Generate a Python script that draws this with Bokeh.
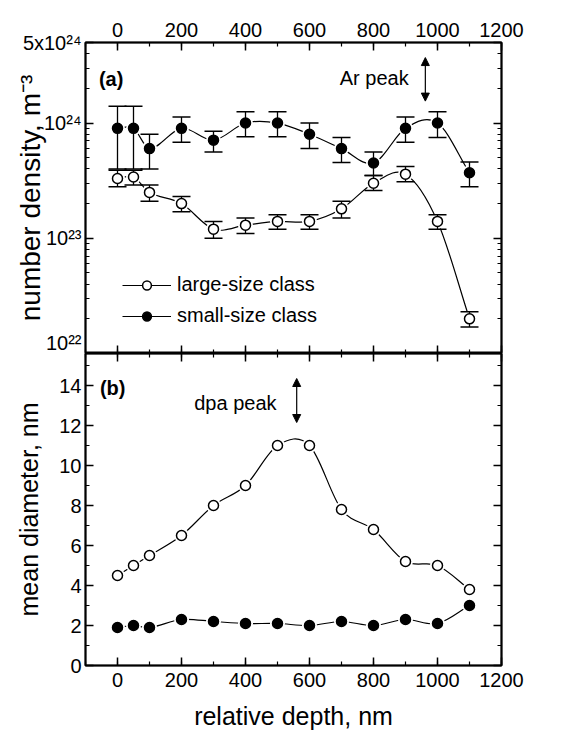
import numpy as np
from bokeh.plotting import figure
from bokeh.models import (Range1d, FixedTicker, SingleIntervalTicker, LogAxis, LinearAxis,
                          CustomJSTickFormatter, Legend, LegendItem, Arrow, NormalHead)
from bokeh.layouts import column
from bokeh.embed import file_html
from bokeh.resources import INLINE
from bokeh.core.properties import value

# ---------------- data ----------------
depth = [0, 50, 100, 200, 300, 400, 500, 600, 700, 800, 900, 1000, 1100]

large_density = [3.3e23, 3.4e23, 2.5e23, 2.0e23, 1.2e23, 1.3e23, 1.4e23, 1.4e23, 1.8e23, 3.0e23, 3.6e23, 1.4e23, 2.0e22]
large_density_low = [2.8e23, 2.9e23, 2.1e23, 1.7e23, 1.0e23, 1.1e23, 1.2e23, 1.2e23, 1.5e23, 2.6e23, 3.1e23, 1.2e23, 1.7e22]
large_density_high = [3.9e23, 3.9e23, 2.9e23, 2.3e23, 1.4e23, 1.5e23, 1.6e23, 1.6e23, 2.1e23, 3.5e23, 4.2e23, 1.6e23, 2.3e22]

small_density = [9.0e23, 9.0e23, 6.0e23, 9.0e23, 7.1e23, 1.0e24, 1.0e24, 8.0e23, 6.0e23, 4.5e23, 9.0e23, 1.0e24, 3.7e23]
small_density_low = [4.0e23, 4.0e23, 4.0e23, 6.8e23, 5.6e23, 7.6e23, 7.6e23, 6.0e23, 4.55e23, 3.5e23, 6.8e23, 7.5e23, 2.8e23]
small_density_high = [1.4e24, 1.4e24, 8.0e23, 1.13e24, 8.5e23, 1.25e24, 1.25e24, 1.0e24, 7.5e23, 5.6e23, 1.13e24, 1.25e24, 4.6e23]

large_diameter = [4.5, 5.0, 5.5, 6.5, 8.0, 9.0, 11.0, 11.0, 7.8, 6.8, 5.2, 5.0, 3.8]
small_diameter = [1.9, 2.0, 1.9, 2.3, 2.2, 2.1, 2.1, 2.0, 2.2, 2.0, 2.3, 2.1, 3.0]

series_labels = ["large-size class", "small-size class"]
density_ticks = [1e22, 1e23, 1e24, 5e24]
density_minor = [k * 10.0 ** e for e in (22, 23) for k in range(2, 10)] + [2e24, 3e24, 4e24]

FONT = "Liberation Sans"


def spline(xs, ys, log=False):
    """Smooth cubic (Hermite) segments through the points, as Bezier control points."""
    x = np.asarray(xs, float)
    y = np.log10(ys) if log else np.asarray(ys, float)
    s = np.empty(len(x))
    s[0] = (y[1] - y[0]) / (x[1] - x[0])
    s[-1] = (y[-1] - y[-2]) / (x[-1] - x[-2])
    s[1:-1] = (y[2:] - y[:-2]) / (x[2:] - x[:-2])
    h = np.diff(x)
    cx0 = x[:-1] + h / 3
    cy0 = y[:-1] + s[:-1] * h / 3
    cx1 = x[1:] - h / 3
    cy1 = y[1:] - s[1:] * h / 3
    y0, y1 = y[:-1], y[1:]
    if log:
        y0, y1, cy0, cy1 = 10 ** y0, 10 ** y1, 10 ** cy0, 10 ** cy1
    return dict(x0=x[:-1], y0=y0, x1=x[1:], y1=y1, cx0=cx0, cy0=cy0, cx1=cx1, cy1=cy1)


def style_axis(ax, labels=True, size="20px", standoff=5):
    ax.axis_line_color = "black"
    ax.axis_line_width = 1.5
    ax.major_tick_in = 8
    ax.major_tick_out = 0
    ax.minor_tick_in = 4
    ax.minor_tick_out = 0
    ax.major_tick_line_color = "black"
    ax.major_tick_line_width = 1.5
    ax.minor_tick_line_color = "black"
    ax.minor_tick_line_width = 1.2
    ax.major_label_text_font = FONT
    ax.major_label_text_color = "black"
    if labels:
        ax.major_label_text_font_size = size
        ax.major_label_standoff = standoff
    else:
        ax.major_label_text_font_size = "0px"
        ax.major_label_standoff = 0
        ax.formatter = CustomJSTickFormatter(code="return ''")


log_fmt = CustomJSTickFormatter(code="""
const e = Math.floor(Math.log10(tick) + 1e-9);
const m = Math.round(tick / Math.pow(10, e));
const sup = {'0':'\u2070','1':'\u00b9','2':'\u00b2','3':'\u00b3','4':'\u2074','5':'\u2075','6':'\u2076','7':'\u2077','8':'\u2078','9':'\u2079','-':'\u207b'};
const s = String(e).split('').map(c => sup[c]).join('');
return (m == 1 ? '' : m + 'x') + '10' + s;
""")

xr = Range1d(-100, 1200)

# ---------------- panel (a) ----------------
pa = figure(frame_width=416, frame_height=311, x_range=xr, y_range=Range1d(1e22, 5e24),
            y_axis_type="log", x_axis_location="above", output_backend="svg",
            toolbar_location=None, min_border_left=85, min_border_right=30,
            min_border_top=42, min_border_bottom=0)
pa.xgrid.visible = False
pa.ygrid.visible = False
pa.outline_line_color = "black"
pa.outline_line_width = 2

xa_top = pa.xaxis[0]
xa_top.ticker = SingleIntervalTicker(interval=200, num_minor_ticks=2)
style_axis(xa_top, labels=True, standoff=6)

xa_bot = LinearAxis(ticker=SingleIntervalTicker(interval=200, num_minor_ticks=2))
style_axis(xa_bot, labels=False)
pa.add_layout(xa_bot, "below")

ya = pa.yaxis[0]
ya.ticker = FixedTicker(ticks=density_ticks, minor_ticks=density_minor)
ya.formatter = log_fmt
style_axis(ya, labels=True, standoff=4)
ya.axis_label = "number density, m\u207b\u00b3"
ya.axis_label_text_font = FONT
ya.axis_label_text_font_size = "28px"
ya.axis_label_text_font_style = "normal"
ya.axis_label_text_color = "black"
ya.axis_label_standoff = -26

ya_r = LogAxis(ticker=FixedTicker(ticks=density_ticks, minor_ticks=density_minor))
style_axis(ya_r, labels=False)
pa.add_layout(ya_r, "right")

line_large_a = pa.bezier(line_color="black", line_width=1.2, **spline(depth, large_density, log=True))
line_small_a = pa.bezier(line_color="black", line_width=1.2, **spline(depth, small_density, log=True))

# halos giving the gap between line and marker
pa.scatter(depth, large_density, size=15, fill_color="white", line_color=None)
pa.scatter(depth, small_density, size=15, fill_color="white", line_color=None)

# error bars
for lo, hi in ((large_density_low, large_density_high), (small_density_low, small_density_high)):
    pa.segment(x0=depth, y0=lo, x1=depth, y1=hi, line_color="black", line_width=1.3)
    pa.scatter(depth, lo, marker="dash", size=18, line_color="black", line_width=1.5)
    pa.scatter(depth, hi, marker="dash", size=18, line_color="black", line_width=1.5)

m_large_a = pa.scatter(depth, large_density, marker="circle", size=10, fill_color="white",
                       line_color="black", line_width=1.5)
m_small_a = pa.scatter(depth, small_density, marker="circle", size=10, fill_color="black",
                       line_color="black", line_width=1.5)

legend = Legend(items=[LegendItem(label=series_labels[0], renderers=[line_large_a, m_large_a]),
                       LegendItem(label=series_labels[1], renderers=[line_small_a, m_small_a])],
                location=(37, 26), border_line_color=None, background_fill_alpha=0,
                label_text_font=FONT, label_text_font_size="20px", label_text_color="black",
                glyph_width=49, glyph_height=22, spacing=8, padding=0, margin=0,
                label_standoff=6)
pa.add_layout(legend, "center")

pa.text(x=[-58], y=[2.4e24], text=["(a)"], text_font=value(FONT), text_font_style="bold",
        text_font_size="20px", text_baseline="middle", text_align="left", text_color="black")
pa.text(x=[910], y=[2.45e24], text=["Ar peak"], text_font=value(FONT),
        text_font_size="20px", text_baseline="middle", text_align="right", text_color="black")
pa.add_layout(Arrow(start=NormalHead(size=8, fill_color="black", line_color="black"),
                    end=NormalHead(size=8, fill_color="black", line_color="black"),
                    x_start=962, y_start=1.55e24, x_end=962, y_end=3.7e24,
                    line_color="black", line_width=1.2))

# ---------------- panel (b) ----------------
pb = figure(frame_width=416, frame_height=312, x_range=xr, y_range=Range1d(0, 15.6),
            output_backend="svg", toolbar_location=None, min_border_left=85,
            min_border_right=30, min_border_top=0, min_border_bottom=72)
pb.xgrid.visible = False
pb.ygrid.visible = False
pb.outline_line_color = "black"
pb.outline_line_width = 2

xb = pb.xaxis[0]
xb.ticker = SingleIntervalTicker(interval=200, num_minor_ticks=2)
style_axis(xb, labels=True, standoff=7)
xb.axis_label = "relative depth, nm"
xb.axis_label_text_font = FONT
xb.axis_label_text_font_size = "25px"
xb.axis_label_text_font_style = "normal"
xb.axis_label_text_color = "black"
xb.axis_label_standoff = 12

xb_top = LinearAxis(ticker=SingleIntervalTicker(interval=200, num_minor_ticks=2))
style_axis(xb_top, labels=False)
pb.add_layout(xb_top, "above")

yb = pb.yaxis[0]
yb.ticker = SingleIntervalTicker(interval=2, num_minor_ticks=2)
style_axis(yb, labels=True, standoff=4)
yb.axis_label = "mean diameter, nm"
yb.axis_label_text_font = FONT
yb.axis_label_text_font_size = "25px"
yb.axis_label_text_font_style = "normal"
yb.axis_label_text_color = "black"
yb.axis_label_standoff = 13

yb_r = LinearAxis(ticker=SingleIntervalTicker(interval=2, num_minor_ticks=2))
style_axis(yb_r, labels=False)
pb.add_layout(yb_r, "right")

pb.bezier(line_color="black", line_width=1.2, **spline(depth, large_diameter))
pb.bezier(line_color="black", line_width=1.2, **spline(depth, small_diameter))
pb.scatter(depth, large_diameter, size=15, fill_color="white", line_color=None)
pb.scatter(depth, small_diameter, size=15, fill_color="white", line_color=None)
pb.scatter(depth, large_diameter, marker="circle", size=10, fill_color="white",
           line_color="black", line_width=1.5)
pb.scatter(depth, small_diameter, marker="circle", size=10, fill_color="black",
           line_color="black", line_width=1.5)

pb.text(x=[-55], y=[13.9], text=["(b)"], text_font=value(FONT), text_font_style="bold",
        text_font_size="20px", text_baseline="middle", text_align="left", text_color="black")
pb.text(x=[497], y=[13.15], text=["dpa peak"], text_font=value(FONT),
        text_font_size="20px", text_baseline="middle", text_align="right", text_color="black")
pb.add_layout(Arrow(start=NormalHead(size=8, fill_color="black", line_color="black"),
                    end=NormalHead(size=8, fill_color="black", line_color="black"),
                    x_start=560, y_start=12.15, x_end=560, y_end=14.35,
                    line_color="black", line_width=1.2))

layout = column(pa, pb, spacing=0)
open("out.html", "w").write(file_html(layout, INLINE))
